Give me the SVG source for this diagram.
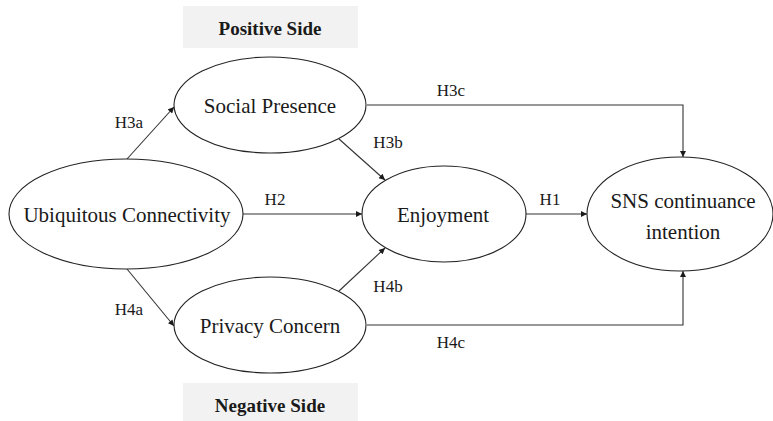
<svg xmlns="http://www.w3.org/2000/svg" width="773" height="421" viewBox="0 0 773 421">
<defs>
<marker id="ah" viewBox="0 0 10 10" refX="10" refY="5" markerWidth="7" markerHeight="6" markerUnits="userSpaceOnUse" orient="auto">
<path d="M0,0 L10,5 L0,10 z" fill="#1a1a1a"/>
</marker>
<style>
.n ellipse{fill:#fff;stroke:#222;stroke-width:1.1}
.c path{fill:none;stroke:#333;stroke-width:1.1;marker-end:url(#ah)}
.box{fill:#f2f2f2}
</style>
</defs>
<rect width="773" height="421" fill="#fff"/>
<g font-family="Liberation Serif, Times New Roman, serif" fill="#1a1a1a" text-anchor="middle">
<g id="positive-side">
<rect class="box" x="183" y="6" width="175" height="42"/>
<text x="270" y="35" font-size="19" font-weight="bold">Positive Side</text>
</g>
<g id="negative-side">
<rect class="box" x="183" y="383" width="175" height="38"/>
<text x="270" y="412" font-size="19" font-weight="bold">Negative Side</text>
</g>
<g id="connectors" class="c">
<path d="M127,159 L174,107"/>
<path d="M339,139 L385,180"/>
<path d="M243,214 L362,214"/>
<path d="M367,105 L683,105 L683,157"/>
<path d="M526,214 L587,214"/>
<path d="M127,269 L174,326"/>
<path d="M339,291 L385,248"/>
<path d="M367,325 L683,325 L683,271"/>
</g>
<g id="connector-labels" font-size="17">
<text x="129" y="128">H3a</text>
<text x="388" y="148">H3b</text>
<text x="275" y="205">H2</text>
<text x="451" y="96">H3c</text>
<text x="550" y="205">H1</text>
<text x="129" y="315">H4a</text>
<text x="388" y="292">H4b</text>
<text x="451" y="348">H4c</text>
</g>
<g id="social-presence" class="n" font-size="21">
<ellipse cx="270" cy="105" rx="96" ry="48"/>
<text x="270" y="113">Social Presence</text>
</g>
<g id="ubiquitous-connectivity" class="n" font-size="21">
<ellipse cx="126" cy="214" rx="117" ry="55"/>
<text x="127" y="222">Ubiquitous Connectivity</text>
</g>
<g id="enjoyment" class="n" font-size="21">
<ellipse cx="444" cy="214" rx="82" ry="48"/>
<text x="443" y="222">Enjoyment</text>
</g>
<g id="sns-continuance-intention" class="n" font-size="21">
<ellipse cx="680" cy="214" rx="93" ry="57"/>
<text x="683" y="208">SNS continuance</text>
<text x="683" y="239">intention</text>
</g>
<g id="privacy-concern" class="n" font-size="21">
<ellipse cx="270" cy="325" rx="96" ry="48"/>
<text x="270" y="333">Privacy Concern</text>
</g>
</g>
</svg>
